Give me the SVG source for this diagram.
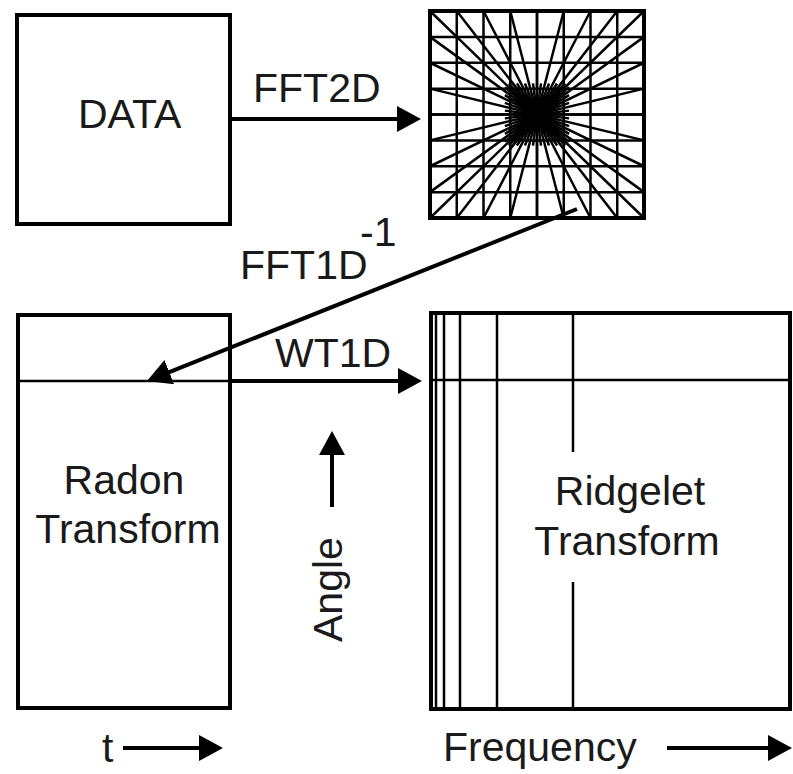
<svg xmlns="http://www.w3.org/2000/svg" width="793" height="774" viewBox="0 0 793 774">
<style>
.box{fill:#fff;stroke:#000;stroke-width:4}
.thin{fill:none;stroke:#000;stroke-width:2.5}
.arr{fill:none;stroke:#000;stroke-width:4}
text{font-family:"Liberation Sans",Arial,sans-serif;font-size:41px;fill:#1a1a1a}
</style>
<defs>
<marker id="ah" viewBox="0 0 24 26" refX="4" refY="13" markerWidth="24" markerHeight="26" markerUnits="userSpaceOnUse" orient="auto">
<path d="M0,0 L24,13 L0,26 z" fill="#000"/>
</marker>
</defs>
<rect width="793" height="774" fill="#fff"/>

<g id="data">
<rect class="box" x="17" y="15" width="213" height="209"/>
<text x="78" y="128" font-size="40">DATA</text>
</g>

<g id="fft-grid">
<rect class="box" x="430" y="11" width="214" height="207"/>
<path class="thin" stroke-width="3" d="M456.75,11V218M483.5,11V218M510.25,11V218M537,11V218M563.75,11V218M590.5,11V218M617.25,11V218
M430,36.875H644M430,62.75H644M430,88.625H644M430,114.5H644M430,140.375H644M430,166.25H644M430,192.125H644"/>
<path class="thin" stroke-width="2.5" d="M430,11L644,218M456.75,11L617.25,218M483.5,11L590.5,218M510.25,11L563.75,218M537,11L537,218M563.75,11L510.25,218M590.5,11L483.5,218M617.25,11L456.75,218M644,11L430,218
M430,36.875L644,192.125M430,62.75L644,166.25M430,88.625L644,140.375M430,114.5L644,114.5M430,140.375L644,88.625M430,166.25L644,62.75M430,192.125L644,36.875"/>
<path class="thin" stroke-width="2" d="M508.91,83.45L565.09,145.55M516.94,83.45L557.06,145.55M524.96,83.45L549.04,145.55M532.99,83.45L541.01,145.55M541.01,83.45L532.99,145.55M549.04,83.45L524.96,145.55M557.06,83.45L516.94,145.55M565.09,83.45L508.91,145.55
M504.9,87.33L569.1,141.67M504.9,95.09L569.1,133.91M504.9,102.86L569.1,126.14M504.9,110.62L569.1,118.38M504.9,118.38L569.1,110.62M504.9,126.14L569.1,102.86M504.9,133.91L569.1,95.09M504.9,141.67L569.1,87.33"/>
<circle cx="537" cy="114.5" r="9" fill="#000"/>
</g>

<g id="radon">
<rect class="box" x="18" y="315" width="212" height="393"/>
<path class="thin" d="M18,381H230"/>
<text x="124" y="494" text-anchor="middle">Radon</text>
<text x="128" y="543" text-anchor="middle">Transform</text>
</g>

<g id="ridgelet">
<rect class="box" x="431" y="313" width="359" height="396"/>
<path class="thin" d="M436,313V709M444,313V709M460,313V709M497,313V709M573,313V452M573,582V709M431,380H790"/>
<text x="630" y="505" text-anchor="middle">Ridgelet</text>
<text x="627" y="555" text-anchor="middle">Transform</text>
</g>

<g id="connectors">
<path class="arr" d="M232,119H401" marker-end="url(#ah)"/>
<path class="arr" d="M577,209L165.6,373.6" marker-end="url(#ah)"/>
<path class="arr" d="M232,381H402" marker-end="url(#ah)"/>
<path class="arr" d="M332,507V451" marker-end="url(#ah)"/>
<path class="arr" stroke-width="5" d="M123,748H203" marker-end="url(#ah)"/>
<path class="arr" stroke-width="5" d="M667,748H772" marker-end="url(#ah)"/>
</g>

<g id="labels">
<text x="253" y="102">FFT2D</text>
<text x="240" y="279">FFT1D</text>
<text x="360" y="246" font-size="23">-1</text>
<text x="275" y="367">WT1D</text>
<text transform="translate(342,642) rotate(-90)">Angle</text>
<text x="102" y="762">t</text>
<text x="443" y="761">Frequency</text>
</g>
</svg>
